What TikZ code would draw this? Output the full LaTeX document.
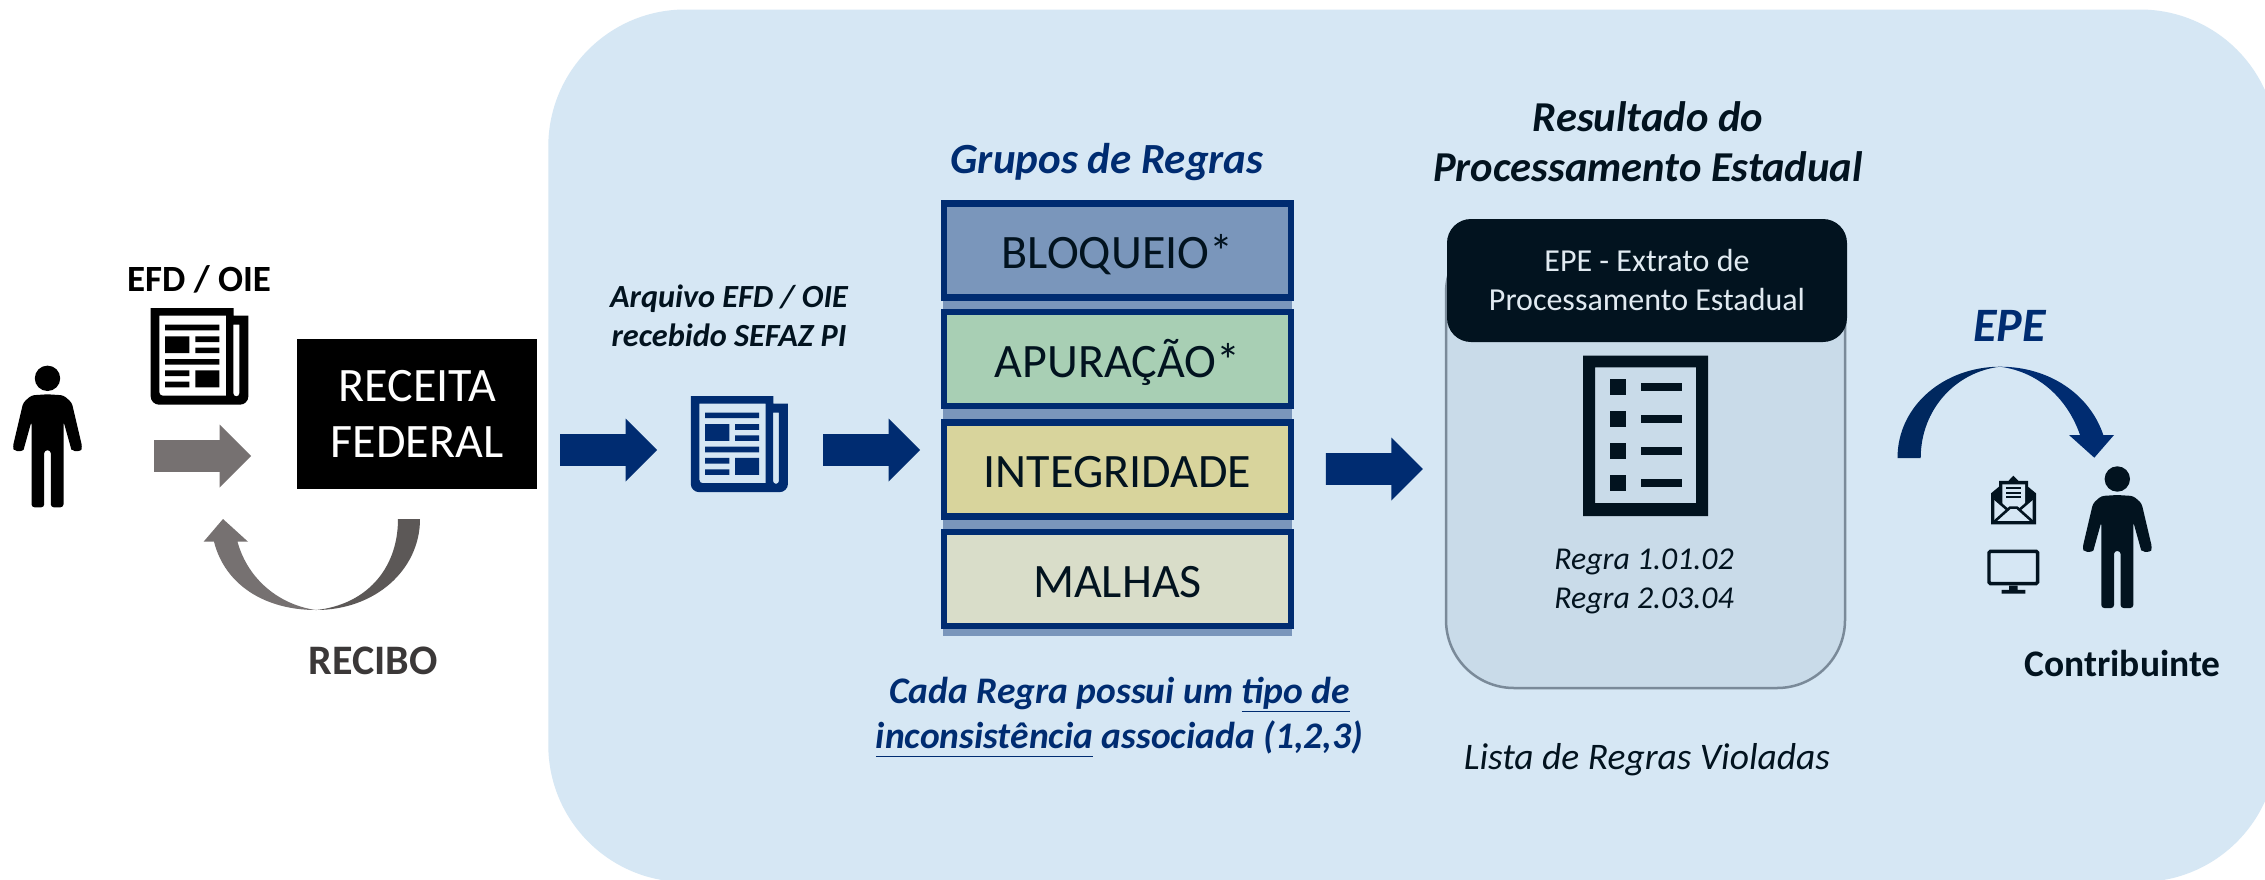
\documentclass[tikz,border=0pt]{standalone}
\usepackage{fontspec}
\setmainfont{Carlito}
\usetikzlibrary{shapes.arrows}

\definecolor{panelblue}{HTML}{D6E7F4}
\definecolor{navy}{HTML}{002C71}
\definecolor{navydark}{HTML}{00285F}
\definecolor{inkdark}{HTML}{02131F}
\definecolor{arrowgray}{HTML}{767171}
\definecolor{arrowdark}{HTML}{5C5857}
\definecolor{cardblue}{HTML}{C9DBE9}
\definecolor{stackback}{HTML}{7A96BB}

\newcommand{\fsz}[2]{\fontsize{#1}{#2}\selectfont}

\tikzset{
    bigarrow/.style={single arrow, draw=none, inner sep=0pt, text height=15.7pt, text depth=15.7pt,
        minimum height=97pt, single arrow head extend=15.6pt,
        single arrow head indent=0pt, anchor=tail},
    rulebox/.style={draw=navy, line width=6.5pt, minimum width=347pt, minimum height=94pt,
        inner sep=0pt, text=inkdark, text height=36pt, text depth=0pt, font=\fsz{48}{58}},
    person/.pic={
        \path[pic actions] (0,0) circle (12.7);
        \path[pic actions, rounded corners=3pt] (0,16) -- (16,17) -- (24.3,24.3) -- (34.7,68.5)
            arc[start angle=15, end angle=165, radius=6] -- (16,43)
            -- (16,129) -- (3.3,129) -- (3.3,72) -- (-3.3,72) -- (-3.3,129) -- (-16,129)
            -- (-16,43) -- (-23.1,68.5) arc[start angle=15, end angle=165, radius=6]
            -- (-24.3,24.3) -- (-16,17) -- cycle;
    },
    % sheet of news, drawn in a box 293 x 290
    news/.pic={
        \path[pic actions, even odd rule]
            (0,0) -- (249,0) -- (249,23) -- (293,23) -- (293,265)
            arc[start angle=0, end angle=90, radius=25] -- (25,290)
            arc[start angle=90, end angle=180, radius=25] -- cycle
            (26,23) -- (226,23) -- (226,263) -- (36,263)
            arc[start angle=90, end angle=180, radius=10] -- cycle
            (248,50) -- (266,50) -- (266,256) arc[start angle=0, end angle=180, radius=9] -- cycle;
        \path[pic actions] (43,50) rectangle (206,67) (43,85) rectangle (116,135)
            (134,85) rectangle (206,102) (134,119) rectangle (206,135)
            (43,153) rectangle (206,170) (43,187) rectangle (116,204)
            (43,221) rectangle (116,238) (134,187) rectangle (206,238);
    }
}

\begin{document}
\begin{tikzpicture}[x=1pt, y=-1pt]
    \useasboundingbox (0,0) rectangle (2265,879);
    \fill[white] (0,0) rectangle (2265,879);
    \fill[panelblue, rounded corners=137pt] (548.3,9.5) rectangle (2277,882);

    % left side, sending the file
    \pic[fill=black] (sender) at (47.5,378.3) {person};
    \node[font=\fsz{37}{45}\bfseries] (efdtitle) at (199,279) {EFD / OIE};
    \pic[fill=black, scale=0.3333] (efdnews) at (150.7,308) {news};
    \node[bigarrow, fill=arrowgray] (sendarrow) at (154,456) {};
    \node[fill=black, text=white, minimum width=239.5pt, minimum height=150pt, inner sep=0pt,
        align=center, font=\fsz{48}{56}] (receita) at (417.2,414) {RECEITA\\FEDERAL};

    % receipt ribbon
    \fill[arrowdark] (420,519) .. controls (420,570) and (375,610) .. (316,610)
        .. controls (365,605) and (398,570) .. (398,519) -- cycle;
    \fill[arrowgray] (316,610) .. controls (265,610) and (225,585) .. (214,541.7)
        -- (203.6,541.7) -- (223,519) -- (248,541.7) -- (237.5,541.7)
        .. controls (248,580) and (280,605) .. (316,610) -- cycle;
    \node[font=\fsz{42}{50}\bfseries, text={rgb,255:red,59;green,56;blue,56}] (recibo) at (373,661) {RECIBO};

    % arrival at the state
    \node[bigarrow, fill=navy] (arrivearrow) at (560,450) {};
    \node[font=\fsz{32.3}{39}\bfseries\itshape, text=inkdark, align=center] (arquivo) at (729,316)
        {Arquivo EFD / OIE\\recebido SEFAZ PI};
    \pic[fill=navy, scale=0.3315] (statenews) at (690.8,396) {news};
    \node[bigarrow, fill=navy] (grouparrow) at (823,450) {};

    % rule groups
    \node[font=\fsz{43}{52}\bfseries\itshape, text=navy] (grupos) at (1107,162) {Grupos de Regras};
    \fill[stackback] (942.8,210) rectangle (1292,635.6);
    \node[rulebox, fill={rgb,255:red,122;green,150;blue,187}] (bloqueio) at (1117.5,250.7) {BLOQUEIO*};
    \node[rulebox, fill={rgb,255:red,168;green,207;blue,180}] (apuracao) at (1117.5,359.2) {APURAÇÃO*};
    \node[rulebox, fill={rgb,255:red,216;green,212;blue,156}] (integridade) at (1117.5,469.7) {INTEGRIDADE};
    \node[rulebox, fill={rgb,255:red,217;green,221;blue,201}] (malhas) at (1117.5,579) {MALHAS};
    \node[font=\fsz{37.5}{45}\bfseries\itshape, text=navy, align=center] (cada) at (1119.5,717)
        {Cada Regra possui um \underline{tipo de}\\\underline{inconsistência\vphantom{p}} associada (1,2,3)};

    \node[bigarrow, fill=navy] (resultarrow) at (1325.7,469) {};

    % state result
    \node[font=\fsz{42.6}{50}\bfseries\itshape, text=inkdark, align=center] (resultado) at (1648,142)
        {Resultado do\\Processamento Estadual};
    \draw[draw={rgb,255:red,122;green,138;blue,153}, line width=2.5pt, fill=cardblue, rounded corners=68pt]
        (1446,225) rectangle (1845,688);
    \node[fill=inkdark, minimum width=400pt, minimum height=123pt, rounded corners=24pt, inner sep=0pt,
        text={rgb,255:red,225;green,234;blue,241}, align=center, font=\fsz{32}{39}] (extrato) at (1647,280.5)
        {EPE - Extrato de\\Processamento Estadual};

    % list of rules on the sheet
    \fill[inkdark, even odd rule] (1583,355.5) rectangle (1708,516) (1595,367.4) rectangle (1696,503);
    \foreach \y in {0,1,2,3} {
        \fill[inkdark] (1609.6,379.4+32*\y) rectangle (1625.6,395.4+32*\y);
        \fill[inkdark] (1641,383+32*\y) rectangle (1682,391+32*\y);
    }
    \node[font=\fsz{31.8}{39}\itshape, text=inkdark, align=center] (regras) at (1644,581.5)
        {Regra 1.01.02\\Regra 2.03.04};
    \node[font=\fsz{37.5}{45}\itshape, text=inkdark] (lista) at (1647,760) {Lista de Regras Violadas};

    % delivery to the taxpayer
    \node[font=\fsz{48}{58}\bfseries\itshape, text=navy] (epe) at (2009.5,326) {EPE};
    \fill[navydark] (1897.5,458) .. controls (1897.5,405) and (1945,366.7) .. (2000,366.7)
        .. controls (1955,372) and (1920.7,410) .. (1920.7,458) -- cycle;
    \fill[navy] (2000,366.7) .. controls (2050,366.7) and (2090,395) .. (2103.3,435)
        -- (2114,435) -- (2094.3,457.7) -- (2069,435) -- (2080,435)
        .. controls (2068,400) and (2040,372) .. (2000,366.7) -- cycle;

    % envelope
    \begin{scope}[shift={(1900,340)}, x=0.3333pt, y=-0.3333pt]
        \fill[inkdark] (273,460) -- (297,440) -- (297,423) -- (325,423) -- (340,407) -- (356,423)
            -- (384,423) -- (384,440) -- (408,460) -- (408,553) -- (273,553) -- cycle;
        \fill[panelblue] (283,475) -- (307,495) -- (307,433) -- (375,433) -- (375,495) -- (398,475)
            -- (398,543) -- (283,543) -- cycle;
        \draw[inkdark, line width=2.6pt] (283,475) -- (320,507) (398,475) -- (361,507)
            (283,545) -- (330,503) -- (351,503) -- (398,545);
        \draw[inkdark, line width=1.8pt] (318,445) -- (362,445) (318,459) -- (362,459) (318,472) -- (362,472);
        % monitor
        \draw[inkdark, line width=3.4pt, rounded corners=1.5pt] (267,634) rectangle (413,731);
        \fill[inkdark] (327,737) rectangle (353,750) (305,750) rectangle (376,761);
    \end{scope}

    \pic[fill=inkdark] (taxpayer) at (2117.3,479) {person};
    \node[font=\fsz{37.5}{45}\bfseries, text=inkdark] (contribuinte) at (2122.6,663) {Contribuinte};
\end{tikzpicture}
\end{document}
